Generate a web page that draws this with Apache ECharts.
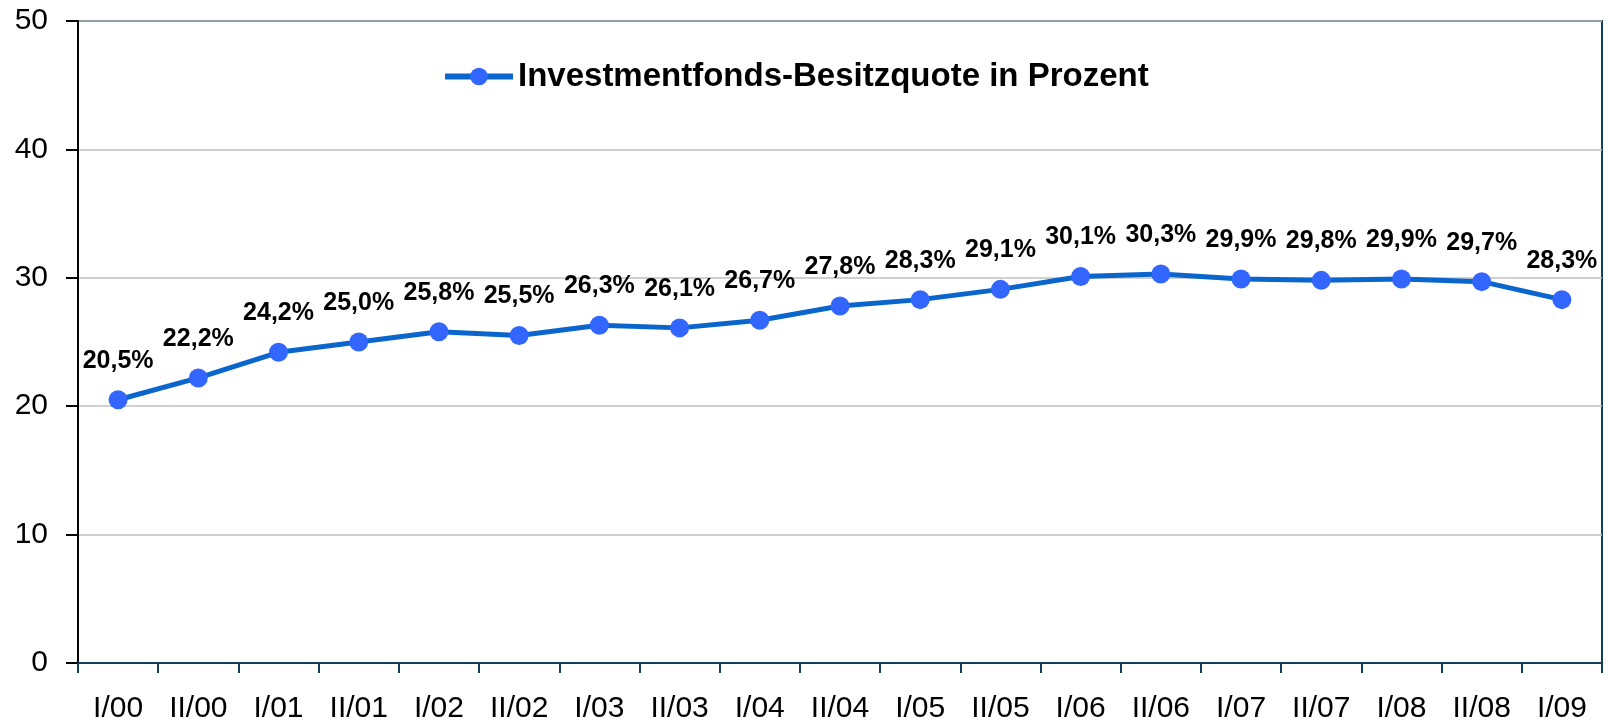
<!DOCTYPE html>
<html><head><meta charset="utf-8">
<script src="https://cdn.jsdelivr.net/npm/echarts@6/dist/echarts.min.js"></script>
<style>html,body{margin:0;padding:0;background:#fff}#c{width:1608px;height:724px}</style>
</head><body><div id="c"></div>
<script>
const categories = ['I/00','II/00','I/01','II/01','I/02','II/02','I/03','II/03','I/04','II/04','I/05','II/05','I/06','II/06','I/07','II/07','I/08','II/08','I/09'];
const values = [20.5,22.2,24.2,25.0,25.8,25.5,26.3,26.1,26.7,27.8,28.3,29.1,30.1,30.3,29.9,29.8,29.9,29.7,28.3];
const yTicks = [0,10,20,30,40,50];
const seriesName = 'Investmentfonds-Besitzquote in Prozent';
const FF = 'Liberation Sans, Arial, sans-serif';

const chart = echarts.init(document.getElementById('c'));
chart.setOption({
  animation: false,
  backgroundColor: '#ffffff',
  textStyle: {fontFamily: FF},
  legend: {
    data: [seriesName],
    left: 437, top: 55,
    itemWidth: 68, itemHeight: 22, itemGap: 10,
    lineStyle: {width: 6, color: '#0a66cc'},
    itemStyle: {color: '#3366ff'},
    textStyle: {fontSize: 33, fontWeight: 'bold', color: '#000', fontFamily: FF}
  },
  grid: {left: 78, right: 6, top: 21, bottom: 60, show: true, borderColor: '#123f5e', borderWidth: 2, containLabel: false},
  xAxis: {
    type: 'category', data: categories, boundaryGap: true,
    axisLine: {lineStyle: {color: '#123f5e', width: 2}},
    axisTick: {show: true, length: 10, lineStyle: {color: '#123f5e', width: 2}},
    axisLabel: {fontSize: 30, color: '#000', margin: 31, fontFamily: FF}
  },
  yAxis: {
    type: 'value', min: 0, max: 50, interval: 10,
    axisLine: {show: true, lineStyle: {color: '#000', width: 2}},
    axisTick: {show: true, length: 12, lineStyle: {color: '#000', width: 2}},
    axisLabel: {fontSize: 30, color: '#000', margin: 30, fontFamily: FF,
      formatter: v => yTicks.includes(v) ? String(v) : ''},
    splitLine: {show: true, lineStyle: {color: '#c0c0c0', width: 1.5}}
  },
  series: [{
    name: seriesName, type: 'line', data: values,
    symbol: 'circle', symbolSize: 19,
    lineStyle: {color: '#0a66cc', width: 5},
    itemStyle: {color: '#3366ff'},
    label: {show: true, position: 'top', distance: 17, fontSize: 25, fontWeight: 'bold', color: '#000',
      fontFamily: FF,
      formatter: p => p.value.toFixed(1).replace('.', ',') + '%'}
  }]
});
</script></body></html>
